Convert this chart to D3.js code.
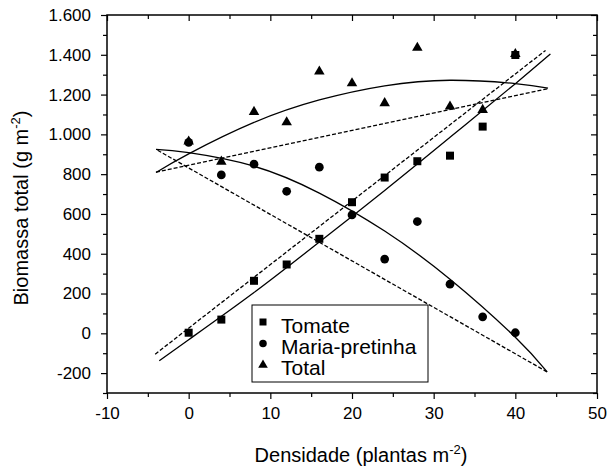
<!DOCTYPE html>
<meta charset="utf-8">
<style>
body { margin: 0; background: #fff; }
text { font-family: Arial, "Liberation Sans", sans-serif; fill: #000; }
.axis path { display: none; }
.axis line { stroke: #000; stroke-width: 1.2px; }
.axis text { font-size: 17px; }
.fit { fill: none; stroke: #000; stroke-width: 1.3px; }
.dash { stroke-dasharray: 4,2; }
</style>
<body>
<script src="https://d3js.org/d3.v7.min.js"></script>
<script>

// observed points
var densidade = [0, 4, 8, 12, 16, 20, 24, 28, 32, 36, 40];
var tomate = [3, 69, 264, 346, 475, 659, 783, 865, 893, 1039, 1399];
var mariaPretinha = [960, 796, 850, 714, 835, 595, 373, 562, 247, 83, 3];
var total = [964, 863, 1113, 1061, 1316, 1257, 1157, 1435, 1140, 1123, 1404];

// fitted lines (x, y pairs)
var tomateLinX = [-4.1, 43.7], tomateLinY = [-105, 1422];
var tomateCurX = [-3.6, 0, 8, 16, 24, 32, 40, 44.3];
var tomateCurY = [-138, -32, 205, 459, 718, 985, 1255, 1404];
var mariaLinX = [-3.8, 43.9], mariaLinY = [920, -194];
var mariaCurX = [-4, 0, 8, 16, 24, 32, 40, 43.9];
var mariaCurY = [925, 908, 840, 705, 514, 272, -20, -194];
var totalLinX = [-4, 44], totalLinY = [810, 1230];
var totalCurX = [-4, 0, 8, 16, 24, 32, 40, 44];
var totalCurY = [808, 902, 1060, 1173, 1244, 1272, 1255, 1232];

// tick values
var xTicks = [-10, 0, 10, 20, 30, 40, 50];
var xMinor = [-5, 5, 15, 25, 35, 45];
var yTicks = [-200, 0, 200, 400, 600, 800, 1000, 1200, 1400, 1600];
var yMinor = [-300, -100, 100, 300, 500, 700, 900, 1100, 1300, 1500];

var legendNames = ["Tomate", "Maria-pretinha", "Total"];

var margin = {top: 15, left: 107},
    width = 490,
    height = 378;

var ptBR = d3.formatLocale({decimal: ",", thousands: ".", grouping: [3], currency: ["", ""], minus: "-"});
var fmt = ptBR.format(",d");

var x = d3.scaleLinear().domain([-10, 50]).range([0, width]);
var y = d3.scaleLinear().domain([-300, 1600]).range([height, 0]);

var svg = d3.select("body").append("svg")
    .attr("width", 610)
    .attr("height", 467)
  .append("g")
    .attr("transform", "translate(" + margin.left + "," + margin.top + ")");

// axes: outward on bottom/left, inward on top/right
svg.append("g").attr("class", "axis")
    .attr("transform", "translate(0," + height + ")")
    .call(d3.axisBottom(x).tickValues(xTicks).tickSize(6).tickPadding(8).tickFormat(fmt));
svg.append("g").attr("class", "axis")
    .attr("transform", "translate(0," + height + ")")
    .call(d3.axisBottom(x).tickValues(xMinor).tickSize(4).tickFormat(""));
svg.append("g").attr("class", "axis")
    .call(d3.axisTop(x).tickValues(xTicks).tickSize(-6).tickFormat(""));
svg.append("g").attr("class", "axis")
    .call(d3.axisTop(x).tickValues(xMinor).tickSize(-4).tickFormat(""));

svg.append("g").attr("class", "axis")
    .call(d3.axisLeft(y).tickValues(yTicks).tickSize(6).tickPadding(10).tickFormat(fmt));
svg.append("g").attr("class", "axis")
    .call(d3.axisLeft(y).tickValues(yMinor).tickSize(4).tickFormat(""));
svg.append("g").attr("class", "axis")
    .attr("transform", "translate(" + width + ",0)")
    .call(d3.axisRight(y).tickValues(yTicks).tickSize(-6).tickFormat(""));
svg.append("g").attr("class", "axis")
    .attr("transform", "translate(" + width + ",0)")
    .call(d3.axisRight(y).tickValues(yMinor).tickSize(-4).tickFormat(""));

// frame
svg.append("rect")
    .attr("width", width)
    .attr("height", height)
    .style("fill", "none")
    .style("stroke", "#000")
    .style("stroke-width", "1.5px");

// fitted lines
var line = d3.line()
    .x(function(d) { return x(d[0]); })
    .y(function(d) { return y(d[1]); })
    .curve(d3.curveNatural);

var fits = [
  [tomateLinX, tomateLinY, true], [tomateCurX, tomateCurY, false],
  [mariaLinX, mariaLinY, true], [mariaCurX, mariaCurY, false],
  [totalLinX, totalLinY, true], [totalCurX, totalCurY, false]
];
fits.forEach(function(f) {
  svg.append("path")
      .datum(d3.zip(f[0], f[1]))
      .attr("class", f[2] ? "fit dash" : "fit")
      .attr("d", line);
});

// markers
var sym = {
  square: d3.symbol().type(d3.symbolSquare).size(64),
  circle: d3.symbol().type(d3.symbolCircle).size(60),
  triangle: d3.symbol().type(d3.symbolTriangle).size(48)
};

function dots(values, shape) {
  svg.selectAll(null)
      .data(d3.zip(densidade, values))
    .enter().append("path")
      .attr("d", sym[shape])
      .attr("transform", function(d) { return "translate(" + x(d[0]) + "," + y(d[1]) + ")"; })
      .style("fill", "#000");
}
dots(mariaPretinha, "circle");
dots(total, "triangle");
dots(tomate, "square");

// legend
var lg = svg.append("g").attr("transform", "translate(145,290)");
lg.append("rect")
    .attr("width", 176)
    .attr("height", 77)
    .style("fill", "#fff")
    .style("stroke", "#000")
    .style("stroke-width", "1px");

var lgSym = [
  d3.symbol().type(d3.symbolSquare).size(49),
  d3.symbol().type(d3.symbolCircle).size(44),
  d3.symbol().type(d3.symbolTriangle).size(40)
];
legendNames.forEach(function(name, i) {
  lg.append("path")
      .attr("d", lgSym[i])
      .attr("transform", "translate(11," + (17 + i * 21.5) + ")")
      .style("fill", "#000");
  lg.append("text")
      .attr("x", 29)
      .attr("y", 28 + i * 21)
      .style("font-size", "21px")
      .text(name);
});

// axis titles
var xt = svg.append("text")
    .attr("x", width / 2 + 9)
    .attr("y", 447)
    .attr("text-anchor", "middle")
    .style("font-size", "20px");
xt.append("tspan").text("Densidade (plantas m");
xt.append("tspan").attr("dy", -8).style("font-size", "13px").text("-2");
xt.append("tspan").attr("dy", 8).text(")");

var yt = svg.append("text")
    .attr("transform", "translate(-79," + (height / 2 + 4) + ") rotate(-90)")
    .attr("text-anchor", "middle")
    .style("font-size", "20px");
yt.append("tspan").text("Biomassa total (g m");
yt.append("tspan").attr("dy", -8).style("font-size", "13px").text("-2");
yt.append("tspan").attr("dy", 8).text(")");

</script>
</body>
